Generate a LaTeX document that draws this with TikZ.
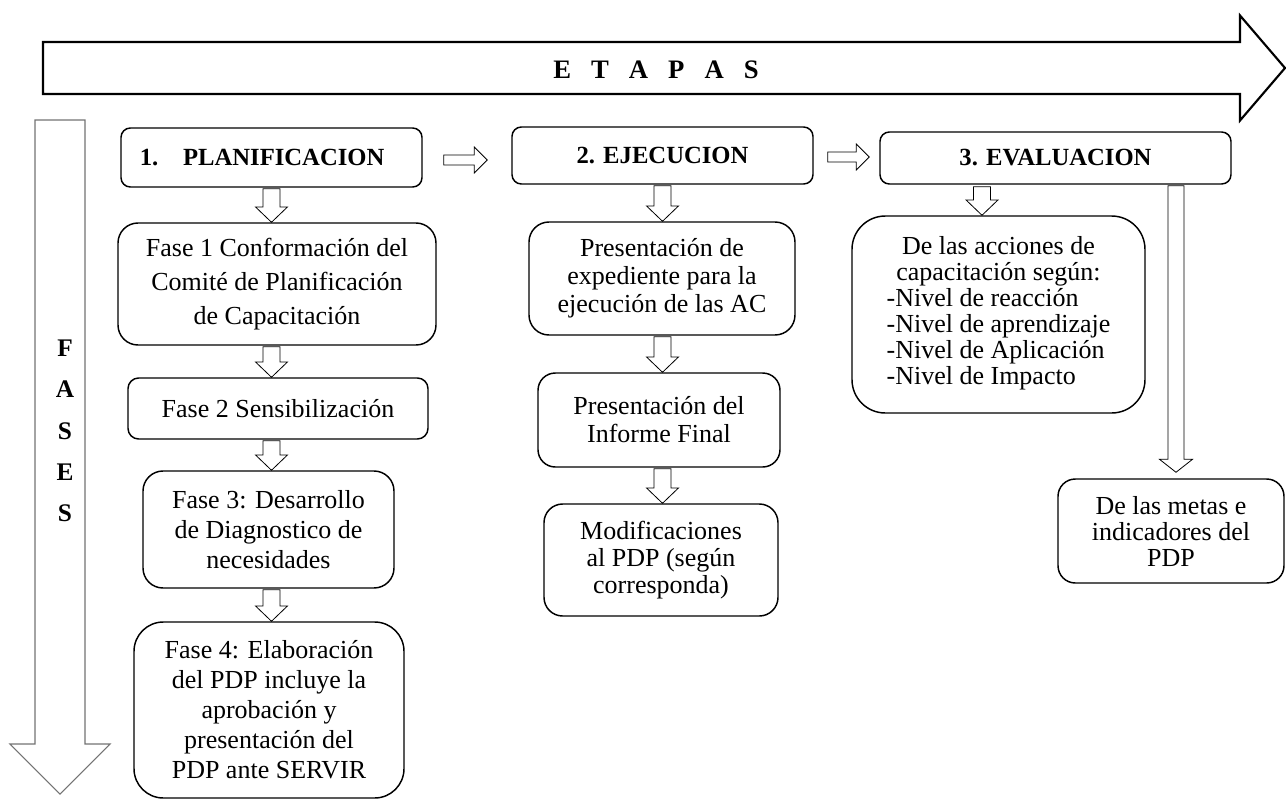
\documentclass[tikz,border=0pt]{standalone}
\usepackage{fontspec}
\setmainfont{Liberation Serif}
\usetikzlibrary{calc}

% hollow block arrows between two named points
\newcommand{\hollowdown}[6][]{%
  \draw[hollow,#1] ([xshift=-#4]#2) -- ([xshift=-#4,yshift=#6]#3) -- ([xshift=-#5,yshift=#6]#3) -- (#3)
    -- ([xshift=#5,yshift=#6]#3) -- ([xshift=#4,yshift=#6]#3) -- ([xshift=#4]#2) -- cycle;}
\newcommand{\hollowright}[6][]{%
  \draw[hollow,#1] ([yshift=#4]#2) -- ([xshift=-#6,yshift=#4]#3) -- ([xshift=-#6,yshift=#5]#3) -- (#3)
    -- ([xshift=-#6,yshift=-#5]#3) -- ([xshift=-#6,yshift=-#4]#3) -- ([yshift=-#4]#2) -- cycle;}

\begin{document}
\begin{tikzpicture}[x=0.75pt,y=-0.75pt,
    hollow/.style={draw,fill=white,line width=0.6pt},
    box/.style={draw,rounded corners=#1,line width=1.1pt,align=center,inner sep=0pt,
      font=\fontsize{19.5}{21}\selectfont},
    box/.default=14pt,
    head/.style={box=7pt,font=\bfseries\fontsize{18.5}{21}\selectfont},
    sz/.style 2 args={minimum width=#1*0.75pt,minimum height=#2*0.75pt}]

    \useasboundingbox (0,0) rectangle (1286,801);

    % Draw the two big arrows.
    \coordinate (et0) at (43,68);
    \coordinate (et1) at (1285,68);
    \hollowright[line width=1.6pt]{et0}{et1}{19.5pt}{39.4pt}{33.75pt}
    \node[font=\bfseries\fontsize{20}{21}\selectfont] (etapas) at (656,70)
        {E\hspace{.75em}T\hspace{.75em}A\hspace{.75em}P\hspace{.75em}A\hspace{.75em}S};

    \coordinate (fa0) at (60,120);
    \coordinate (fa1) at (60,794);
    \hollowdown[draw=black!55,line width=0.8pt]{fa0}{fa1}{18.75pt}{37.5pt}{37.5pt}
    \node[align=center,font=\bfseries\fontsize{19}{31}\selectfont] (fases) at (65,431) {F\\A\\S\\E\\S};

    % Draw the stages.
    \node[head,sz={301}{59}] (plan) at (271.5,157.5) {1.\quad PLANIFICACION\hspace{14pt}};
    \node[head,sz={301}{57}] (ejec) at (662.5,155.5) {2. EJECUCION};
    \node[head,sz={351}{52}] (eval) at (1055.5,158) {3. EVALUACION};

    % Draw the planning phases.
    \node[box=15pt,sz={318}{122},font=\fontsize{19.5}{25.5}\selectfont] (f1) at (277,284)
        {Fase 1 Conformación del\\Comité de Planificación\\de Capacitación};
    \node[box=8pt,sz={300}{61}] (f2) at (278,408.5) {Fase 2 Sensibilización};
    \node[box=15pt,sz={251}{117},font=\fontsize{19.5}{22.5}\selectfont] (f3) at (268.5,529.5)
        {Fase 3: Desarrollo\\de Diagnostico de\\necesidades};
    \node[box=22pt,sz={270}{176},font=\fontsize{19.5}{22.5}\selectfont] (f4) at (269,710)
        {Fase 4: Elaboración\\del PDP incluye la\\aprobación y\\presentación del\\PDP ante SERVIR};

    % Draw the execution steps.
    \node[box=15pt,sz={266}{113}] (e1) at (662,278.5)
        {Presentación de\\expediente para la\\ejecución de las AC};
    \node[box=13pt,sz={242}{94}] (e2) at (659,420) {Presentación del\\Informe Final};
    \node[box=14pt,sz={234}{112},font=\fontsize{19.5}{20}\selectfont] (e3) at (661,560)
        {Modificaciones\\al PDP (según\\corresponda)};

    % Draw the evaluation boxes.
    \node[box=25pt,sz={293}{197},font=\fontsize{19.5}{19.5}\selectfont] (a1) at (998.5,314.5)
        {\begin{tabular}{@{}l@{}}
         \multicolumn{1}{@{}c@{}}{De las acciones de}\\
         \multicolumn{1}{@{}c@{}}{capacitación según:}\\
         -Nivel de reacción\\
         -Nivel de aprendizaje\\
         -Nivel de Aplicación\\
         -Nivel de Impacto
         \end{tabular}};
    \node[box=13pt,sz={226}{104},font=\fontsize{19.5}{19.5}\selectfont] (m1) at (1171,531)
        {De las metas e\\indicadores del\\PDP};

    % Connect the stages.
    \coordinate (r1a) at ($(plan.east)+(21,2.5)$);
    \coordinate (r1b) at ($(ejec.west)+(-24,4.5)$);
    \coordinate (r2a) at ($(ejec.east)+(14,1.5)$);
    \coordinate (r2b) at ($(eval.west)+(-10,-1)$);
    \foreach \a/\b in {r1a/r1b,r2a/r2b} {
        \hollowright{\a}{\b}{3.75pt}{9.75pt}{9.75pt}
    }

    % Connect the boxes down each column.
    \foreach \s/\t in {plan/f1,f1/f2,f2/f3,f3/f4} {
        \coordinate (a-\s) at ($(plan.south |- \s.south)+(0,1)$);
        \coordinate (b-\t) at (plan.south |- \t.north);
        \hollowdown{a-\s}{b-\t}{6.4pt}{12pt}{11.5pt}
    }
    \foreach \s/\t in {ejec/e1,e1/e2,e2/e3} {
        \coordinate (a-\s) at ($(ejec.south |- \s.south)+(0,1)$);
        \coordinate (b-\t) at (ejec.south |- \t.north);
        \hollowdown{a-\s}{b-\t}{6.4pt}{12pt}{11.5pt}
    }
    \coordinate (c0) at ($(eval.south)+(-73.5,2)$);
    \coordinate (c1) at (c0 |- a1.north);
    \hollowdown{c0}{c1}{6.4pt}{12pt}{11.5pt}

    \coordinate (l0) at ($(eval.south)+(120.5,1)$);
    \coordinate (l1) at ($(l0 |- m1.north)+(0,-6)$);
    \hollowdown{l0}{l1}{6pt}{12.4pt}{9.75pt}
\end{tikzpicture}
\end{document}
